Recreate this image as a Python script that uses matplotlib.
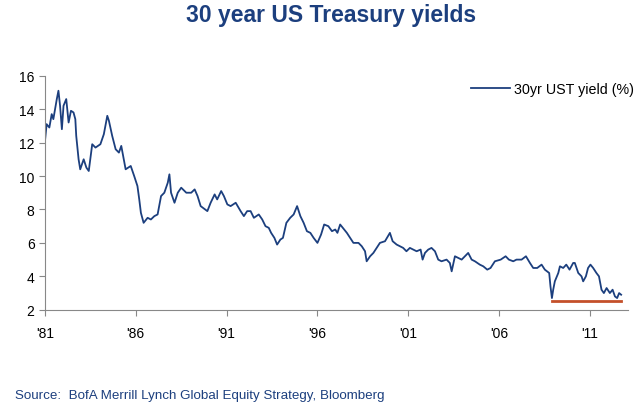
import matplotlib
matplotlib.use("Agg")
import matplotlib.pyplot as plt

plt.rcParams['font.family'] = ['Liberation Sans', 'DejaVu Sans']

# 30yr UST yield (decimal year, %)
years = [1981.00, 1981.09, 1981.24, 1981.37, 1981.46, 1981.65, 1981.74, 1981.83, 1981.93,
         1982.02, 1982.17, 1982.30, 1982.43, 1982.57, 1982.67, 1982.72, 1982.85, 1982.94,
         1983.13, 1983.28, 1983.41, 1983.60, 1983.78, 1984.05, 1984.24, 1984.43, 1984.52,
         1984.70, 1984.89, 1985.07, 1985.20, 1985.44, 1985.72, 1985.91, 1986.09, 1986.19,
         1986.28, 1986.43, 1986.65, 1986.83, 1987.02, 1987.20, 1987.39, 1987.57, 1987.76,
         1987.85, 1987.94, 1988.13, 1988.31, 1988.50, 1988.78, 1989.05, 1989.24, 1989.40,
         1989.57, 1989.94, 1990.12, 1990.34, 1990.48, 1990.70, 1990.85, 1991.04, 1991.22,
         1991.50, 1991.77, 1991.95, 1992.13, 1992.32, 1992.50, 1992.77, 1992.96, 1993.14,
         1993.32, 1993.45, 1993.63, 1993.78, 1993.96, 1994.10, 1994.29, 1994.50, 1994.69,
         1994.88, 1995.06, 1995.24, 1995.42, 1995.61, 1995.79, 1996.00, 1996.20, 1996.37,
         1996.60, 1996.80, 1996.98, 1997.10, 1997.25, 1997.47, 1997.62, 1997.80, 1997.98,
         1998.26, 1998.44, 1998.62, 1998.71, 1998.90, 1999.08, 1999.26, 1999.44, 1999.72,
         1999.99, 2000.14, 2000.36, 2000.54, 2000.72, 2000.90, 2001.09, 2001.28, 2001.46,
         2001.68, 2001.79, 2001.92, 2002.10, 2002.28, 2002.47, 2002.65, 2002.83, 2003.11,
         2003.29, 2003.39, 2003.57, 2003.76, 2003.94, 2004.12, 2004.30, 2004.49, 2004.67,
         2004.94, 2005.13, 2005.35, 2005.53, 2005.77, 2006.09, 2006.36, 2006.54, 2006.78,
         2006.96, 2007.24, 2007.48, 2007.70, 2007.88, 2008.10, 2008.34, 2008.52, 2008.76,
         2008.83, 2008.91, 2008.98, 2009.07, 2009.26, 2009.35, 2009.53, 2009.70, 2009.88,
         2010.08, 2010.17, 2010.36, 2010.54, 2010.63, 2010.78, 2010.90, 2011.03, 2011.18,
         2011.36, 2011.50, 2011.64, 2011.77, 2011.92, 2012.10, 2012.25, 2012.38, 2012.50,
         2012.61, 2012.72]
yields = [12.1, 13.1, 12.9, 13.7, 13.4, 14.6, 15.1, 14.2, 12.8,
          14.2, 14.6, 13.2, 13.9, 13.8, 13.4, 12.4, 11.0, 10.4,
          11.0, 10.5, 10.3, 11.9, 11.7, 11.9, 12.5, 13.6, 13.3,
          12.4, 11.6, 11.4, 11.8, 10.4, 10.6, 10.0, 9.4, 8.6,
          7.8, 7.2, 7.5, 7.4, 7.6, 7.7, 8.8, 9.0, 9.6,
          10.1, 9.0, 8.4, 9.0, 9.3, 9.0, 9.0, 9.2, 8.8,
          8.2, 7.9, 8.4, 8.9, 8.6, 9.1, 8.8, 8.3, 8.2,
          8.4, 7.9, 7.6, 7.9, 7.9, 7.5, 7.7, 7.4, 7.0,
          6.9, 6.6, 6.3, 5.9, 6.2, 6.3, 7.2, 7.5, 7.7,
          8.2, 7.6, 7.2, 6.7, 6.6, 6.3, 6.0, 6.5, 7.1,
          7.0, 6.7, 6.8, 6.6, 7.1, 6.8, 6.6, 6.3, 6.0,
          6.0, 5.8, 5.5, 4.9, 5.2, 5.4, 5.7, 6.0, 6.1,
          6.6, 6.1, 5.9, 5.8, 5.7, 5.5, 5.7, 5.6, 5.5,
          5.6, 5.0, 5.4, 5.6, 5.7, 5.5, 5.0, 4.9, 5.0,
          4.8, 4.3, 5.2, 5.1, 5.0, 5.2, 5.4, 5.0, 4.9,
          4.7, 4.6, 4.4, 4.5, 4.9, 5.0, 5.2, 5.0, 4.9,
          5.0, 5.0, 5.2, 4.8, 4.5, 4.5, 4.7, 4.4, 4.2,
          3.4, 2.7, 3.2, 3.7, 4.2, 4.6, 4.5, 4.7, 4.4,
          4.8, 4.8, 4.2, 4.0, 3.7, 4.0, 4.5, 4.7, 4.5,
          4.2, 4.0, 3.2, 3.0, 3.3, 3.0, 3.2, 2.8, 2.7,
          3.0, 2.9]

# red floor line
floor_years = [2008.89, 2012.74]
floor_level = 2.52

tick_years = [1981, 1986, 1991, 1996, 2001, 2006, 2011]
tick_labels = ["'81", "'86", "'91", "'96", "'01", "'06", "'11"]
y_ticks = [2, 4, 6, 8, 10, 12, 14, 16]

navy = '#1c3f7e'

fig = plt.figure(figsize=(6.4, 4.1), dpi=100)
ax = fig.add_axes([0.0703, 0.242, 0.911, 0.571])

ax.plot(years, yields, color=navy, lw=1.3, label='30yr UST yield (%)')
ax.plot(floor_years, [floor_level, floor_level], color='#c4502a', lw=2.0)

ax.set_xlim(1981, 2013.1)
ax.set_ylim(2, 16)
ax.set_xticks(tick_years)
ax.set_xticklabels(tick_labels)
ax.set_yticks(y_ticks)

for s in ['top', 'right']:
    ax.spines[s].set_visible(False)
for s in ['left', 'bottom']:
    ax.spines[s].set_color('#888888')
    ax.spines[s].set_linewidth(0.8)
ax.tick_params(axis='both', colors='#888888', labelcolor='black', labelsize=10,
               length=4, width=0.8)
ax.tick_params(axis='x', pad=8)

ax.legend(loc='center right', bbox_to_anchor=(0.991, 0.78),
          bbox_transform=fig.transFigure, frameon=False, borderpad=0,
          borderaxespad=0, fontsize=10.3, handlelength=2.7, handletextpad=0.3)

fig.text(0.518, 0.963, '30 year US Treasury yields', ha='center', va='center',
         fontsize=16.5, fontweight='bold', color=navy)
fig.text(0.023, 0.034, 'Source:  BofA Merrill Lynch Global Equity Strategy, Bloomberg',
         ha='left', va='center', fontsize=9.6, color=navy)

fig.savefig('out.png', dpi=100)
